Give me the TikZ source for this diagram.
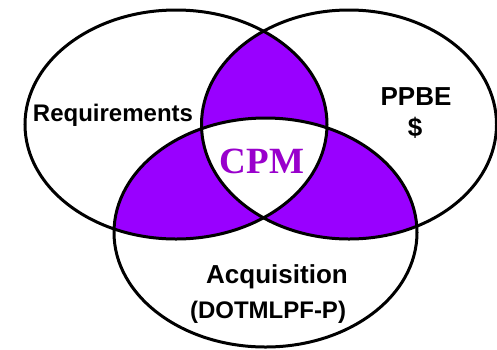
\documentclass[tikz,border=0pt]{standalone}
\usepackage{fontspec}
\setmainfont{Liberation Sans}
\newfontfamily\cpmfont{Liberation Serif}
\definecolor{vfill}{HTML}{9900FF}
\definecolor{vtext}{HTML}{9900CC}
\begin{document}
\begin{tikzpicture}[x=1pt,y=-1pt,
  outline/.style={draw=black,line width=3pt},
  lab/.style={anchor=base,inner sep=0pt,font=\bfseries}]
\useasboundingbox (0,0) rectangle (497,349);
% pairwise overlaps
\begin{scope}
  \clip (176,124.5) ellipse [x radius=151pt, y radius=114.5pt];
  \fill[vfill] (349,124.5) ellipse [x radius=147.5pt, y radius=114.5pt];
  \fill[vfill] (265.5,232.5) ellipse [x radius=151.5pt, y radius=114.5pt];
\end{scope}
\begin{scope}
  \clip (349,124.5) ellipse [x radius=147.5pt, y radius=114.5pt];
  \fill[vfill] (265.5,232.5) ellipse [x radius=151.5pt, y radius=114.5pt];
\end{scope}
% triple overlap white
\begin{scope}
  \clip (176,124.5) ellipse [x radius=151pt, y radius=114.5pt];
  \clip (349,124.5) ellipse [x radius=147.5pt, y radius=114.5pt];
  \fill[white] (265.5,232.5) ellipse [x radius=151.5pt, y radius=114.5pt];
\end{scope}
% outlines
\draw[outline] (176,124.5) ellipse [x radius=151pt, y radius=114.5pt];
\draw[outline] (349,124.5) ellipse [x radius=147.5pt, y radius=114.5pt];
\draw[outline] (265.5,232.5) ellipse [x radius=151.5pt, y radius=114.5pt];
% labels
\node[lab,font=\bfseries\fontsize{24}{28}\selectfont] (req) at (113,121.5) {Requirements};
\node[lab,font=\bfseries\fontsize{26}{30}\selectfont] (ppbe) at (416,105) {PPBE};
\node[lab,font=\bfseries\fontsize{26}{30}\selectfont] (dollar) at (415,136) {\$};
\node[lab,text=vtext,font=\cpmfont\bfseries\fontsize{37}{40}\selectfont] (cpm) at (262,173) {CPM};
\node[lab,font=\bfseries\fontsize{26}{30}\selectfont] (acq) at (277,283) {Acquisition};
\node[lab,font=\bfseries\fontsize{24}{28}\selectfont] (dot) at (268,318) {(DOTMLPF-P)};
\end{tikzpicture}
\end{document}
